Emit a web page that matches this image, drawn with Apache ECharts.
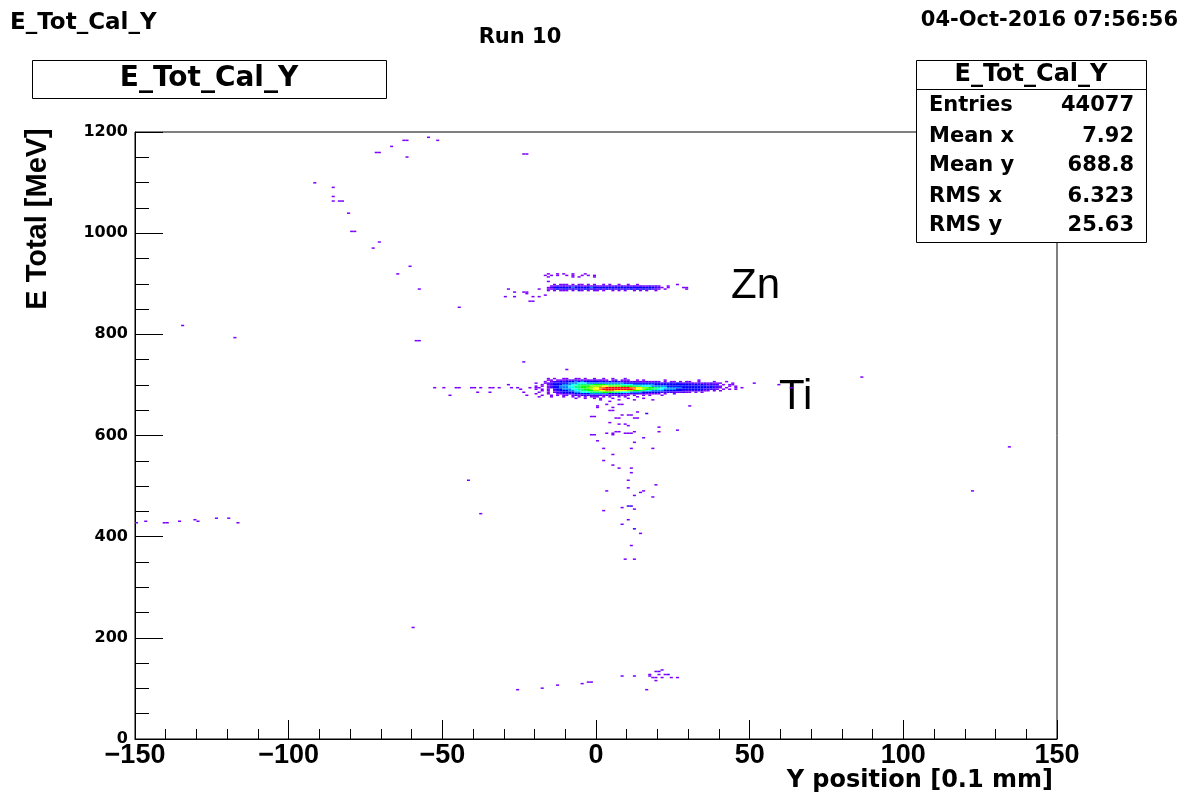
<!DOCTYPE html>
<html><head><meta charset="utf-8">
<script src="https://cdn.jsdelivr.net/npm/echarts@6/dist/echarts.min.js"></script>
<style>html,body{margin:0;padding:0;background:#fff}#c{width:1184px;height:799px}</style>
</head><body><div id="c"></div>
<script>
// ---- axes ----
const xRange = [-150, 150];
const yRange = [0, 1200];
const binW = 1, binH = 3;
// level code -> approximate bin count
const levelCounts = [0, 2, 40, 80, 120, 160, 200, 240, 280, 320, 360, 400];
const palette = ['#8000ff','#4000ff','#0000ff','#0080ff','#00ffff','#00ff80','#00ff00','#80ff00','#ffff00','#ff8000','#ff0000'];

// Ti blob rows: [y bin low edge, x start, level codes per x bin]
const tiRows = [
  [711,-20,"....1.1..1"+"1..11.1..1"+"..1..1...1"],
  [708,-20,"....11.111"+"2122121212"+"1211.12.11"+"1..1.1...."+"..1......."+"...1......"],
  [705,-20,"...1.12232"+"3334343333"+"3232323222"+"2121212112"+"1.1.11.1.1"+"1..1....1."+"..1..."],
  [702,-20,"1..1223333"+"3444555444"+"4444444443"+"3333333333"+"3232323222"+"2212121211"+"1...1."],
  [699,-20,"..1.123334"+"4455666667"+"7776666655"+"5544444443"+"3333333333"+"3232322222"+".1.1.."],
  [696,-20,"1.1.123344"+"4556677788"+"8899888877"+"7766655544"+"4443333333"+"3333332322"+"1..1.1"],
  [693,-20,".1..123344"+"4556677889"+"9aabbbbbbb"+"baa9988776"+"6554444433"+"3333333322"+"1.1..1"],
  [690,-20,"1.1.1.2334"+"4455667789"+"9abbbbbbbb"+"bba9987766"+"5544443333"+"3333322221"+".1.1.."],
  [687,-20,"..1.1.1233"+"3445566778"+"899aaa9999"+"8877665544"+"4433333322"+"2222211.1."+"1....."],
  [684,-20,".1..1.1223"+"3334455566"+"6677766655"+"5444433333"+"3222221121"+"1.1.1....."],
  [681,-20,"1...1..112"+"2223333344"+"4444333332"+"2222121111"+"1.1..1...."],
  [678,-20,"..1..1.1.1"+"1.12122222"+"2212121211"+"1.1..1.1.."+".1........"],
  [675,-20,".1...1...1"+"..1.1.1.11"+"1.1.1..1.1"+"...1......"],
  [672,-20,".........."+"...1..1..1"+".1...1...."+"1....1...."]
];

// Zn band rows
const znRows = [
  [918,-20,"....1..1.1"+"..1...1..."],
  [915,-20,"...1.1.1.."+"1.1..1.1.1"],
  [912,-20,"....1....."+"..1.1....1"],
  [897,-20,"......1.11"+"1.1.11.1.1"+"..1.1..1.."+"1..1......"+"......1..."],
  [894,-20,".....11212"+"1212211212"+"1121212121"+"2121211212"+"1..1......"],
  [891,-20,"....123333"+"3343333343"+"3333333333"+"3333333332"+"21.1....1."],
  [888,-20,"....112323"+"3232323323"+"2323232323"+"2323232322"+"1.1......1"],
  [885,-20,"....1.1.11"+"1.1.21.1.1"+"1.1..1.1.1"+"..1.1.1..1"]
];

// isolated entries [x, y] or [x, y, level]
const upperPts = [[-55,1189],[-51.8,1184],[-63,1184],[-62,1184],[-67,1171],[-72,1159],[-71,1159],[-61.8,1151],
  [-24,1155],[-23,1155],[-91.8,1100],[-85.9,1091],[-85.9,1072],[-85.9,1062],[-83.8,1064],[-82.8,1064],
  [-81,1040],[-80,1002],[-79,1002],[-70.7,983],[-73,969],[-61,934],[-64.9,920],[-57.8,890],[-44.8,852],
  [-134.7,817],[-117.7,793],[-59,787],[-58,787],[-16,904]];
const znSidePts = [[-29,888],[-30,875],[-27,882],[-27,875],[-24,882],[-23,882],[-23,879],[-21,875],
  [-22,866],[-21,866],[-19,889],[-19,875],[-17,876],[26.7,897],[29.6,891]];
const tiSidePts = [[-23.1,744],[-10,730],[-52.9,693],[-49.1,694.7],[-45.9,694.7],[-44.2,693],[-41,694.7],
  [-39.4,693],[-37.2,694.7],[-35,693],[-34,694.7],[-31.2,693],[-28.5,699.9],[-28,693],[-25.8,693],
  [-24.7,692],[-23.6,686.6],[-22.5,680],[-21.5,693],[-19.8,694.7],[-18.8,676.7],[-18.2,686.6],
  [-17.1,690],[-48,680],[-38.3,686.6],[-34.5,686.6],[-19.3,683],
  [39.3,703],[38.2,693],[42,693],[44.7,701.4],[45.2,690],[47.4,693],[51.8,703],[59.3,700],[63,693],
  [86.6,714],[134.7,578],[122.7,491],[30.6,657],[4.6,650.5],[7.8,661.7]];
const tailPts = [[1.3,670],[4,667],[7,670],[12,670],[18,670],[0,657],[0.7,654],[3,662],[5,654],[5,649],
  [8,662],[-2,638],[-1,638],[8,640],[10,640],[11,640],[13,646],[16,642,2],[6.5,633],[7.5,633],[12.4,633],
  [13.4,633],[4,625],[7,621],[9,621],[10,619],[20,615],[20,607],[26.7,611],[6.5,607],[7.5,607],[9,603],
  [10,603],[11,603],[3,603],[5,605],[5,601],[12,607],[-2,600],[-1,600],[0,589],[15,595],[12,586],[11,575],
  [18,573],[2,573],[5,561],[2,550],[5,542],[7,534],[11,534],[11,526],[10,510],[19,502],[10,496],[3,491],
  [15,491],[14,488],[12,482],[18,477],[10,459,2],[11,459,2],[8,458],[12,455],[2,451],[10,433],[8,423],
  [12,416,2],[14,407],[11,382],[9,356],[12,356]];
const leftPts = [[-149.7,426],[-146.7,431],[-141,428],[-140,428],[-135.9,431],[-130.7,434],[-129.8,431],
  [-124,436],[-120,436],[-116.8,428],[-42,512],[-38,445],[-60,219]];
const bottomPts = [[-26,97],[-17.1,99],[-13,105],[-5,110],[-2.2,112.7],[-1.2,112.7],[8,124],[12.9,124],
  [17,128.5],[17,124],[17.9,126.5],[20.5,132.5,2],[19.5,132.5],[21.9,135],[20.8,128.5],[23,128.5,2],
  [22,128.5],[18.7,120.6],[19.7,120.6],[21,120.6],[24,120.6],[26.8,120.6],[19,115],[16,98.9]];

// ---- build bins ----
const cells = new Map();
function put(xb, yb, lvl) {
  const k = xb + ',' + yb;
  if (!cells.has(k) || cells.get(k)[2] < lvl) cells.set(k, [xb, yb, lvl]);
}
[...tiRows, ...znRows].forEach(([y, x0, s]) => {
  for (let i = 0; i < s.length; i++) {
    if (s[i] !== '.') put(x0 + i, y, parseInt(s[i], 36));
  }
});
[...upperPts, ...znSidePts, ...tiSidePts, ...tailPts, ...leftPts, ...bottomPts].forEach(p => {
  put(Math.floor(p[0] / binW) * binW, Math.floor(p[1] / binH) * binH, p[2] || 1);
});
const histData = [...cells.values()].map(c => [c[0], c[1], levelCounts[c[2]]]);

const chart = echarts.init(document.getElementById('c'), null, {renderer: 'canvas'});
const bold = 'bold';
chart.setOption({
  animation: false,
  backgroundColor: '#fff',
  grid: {left: 135, right: 127, top: 132, bottom: 60, show: true, borderColor: '#000', borderWidth: 1, backgroundColor: 'transparent'},
  xAxis: {
    type: 'value', min: xRange[0], max: xRange[1], interval: 50,
    axisLine: {onZero: false, lineStyle: {color: '#000', width: 1}},
    axisTick: {inside: true, length: 19, lineStyle: {color: '#000'}},
    minorTick: {show: true, splitNumber: 5, length: 10, lineStyle: {color: '#000'}},
    splitLine: {show: false},
    axisLabel: {color: '#000', fontFamily: 'Liberation Sans', fontWeight: bold, fontSize: 27, margin: 3,
      formatter: v => String(v).replace('-', '\u2212')}
  },
  yAxis: {
    type: 'value', min: yRange[0], max: yRange[1], interval: 200,
    axisLine: {onZero: false, lineStyle: {color: '#000', width: 1}},
    axisTick: {inside: true, length: 28, lineStyle: {color: '#000'}},
    minorTick: {show: true, splitNumber: 4, length: 14, lineStyle: {color: '#000'}},
    splitLine: {show: false},
    axisLabel: {color: '#000', fontFamily: 'DejaVu Sans', fontWeight: bold, fontSize: 16, margin: 7,
      formatter: v => String(v)}
  },
  visualMap: {show: false, type: 'continuous', dimension: 2, min: 0, max: 400, seriesIndex: 0,
    inRange: {color: palette}},
  series: [{
    type: 'custom',
    data: histData,
    encode: {x: 0, y: 1},
    clip: true,
    renderItem: function (params, api) {
      const x = api.value(0), y = api.value(1);
      const a = api.coord([x, y + binH]);
      const b = api.coord([x + binW, y]);
      return {type: 'rect', shape: {x: a[0], y: a[1], width: b[0] - a[0], height: b[1] - a[1]},
        style: {fill: api.visual('color')}};
    }
  }],
  graphic: [
    {type: 'text', left: 10, top: 12, style: {text: 'E_Tot_Cal_Y', font: 'bold 23px "DejaVu Sans"', fill: '#000'}},
    {type: 'text', x: 520, y: 38, style: {text: 'Run 10', font: 'bold 21px "DejaVu Sans"', fill: '#000', align: 'center', verticalAlign: 'middle'}},
    {type: 'text', x: 1178, y: 21, style: {text: '04-Oct-2016 07:56:56', font: 'bold 21px "DejaVu Sans"', fill: '#000', align: 'right', verticalAlign: 'middle'}},
    {type: 'rect', shape: {x: 32.5, y: 60.5, width: 354, height: 38}, style: {fill: '#fff', stroke: '#000', lineWidth: 1}},
    {type: 'text', x: 209, y: 79, style: {text: 'E_Tot_Cal_Y', font: 'bold 28px "DejaVu Sans"', fill: '#000', align: 'center', verticalAlign: 'middle'}},
    {type: 'rect', z: 10, shape: {x: 916.5, y: 60.5, width: 230, height: 182}, style: {fill: '#fff', stroke: '#000', lineWidth: 1}},
    {type: 'line', z: 11, shape: {x1: 916.5, y1: 89.5, x2: 1146.5, y2: 89.5}, style: {stroke: '#000', lineWidth: 1}},
    {type: 'text', z: 11, x: 1031, y: 75, style: {text: 'E_Tot_Cal_Y', font: 'bold 24px "DejaVu Sans"', fill: '#000', align: 'center', verticalAlign: 'middle'}},
    {type: 'group', z: 11, children: [
      ['Entries', '44077', 106], ['Mean x', '7.92', 137], ['Mean y', '688.8', 166],
      ['RMS x', '6.323', 197], ['RMS y', '25.63', 226]
    ].flatMap(r => [
      {type: 'text', z: 11, x: 929, y: r[2], style: {text: r[0], font: 'bold 21px "DejaVu Sans"', fill: '#000', align: 'left', verticalAlign: 'middle'}},
      {type: 'text', z: 11, x: 1134, y: r[2], style: {text: r[1], font: 'bold 21px "DejaVu Sans"', fill: '#000', align: 'right', verticalAlign: 'middle'}}
    ])},
    {type: 'text', x: 731, y: 286, style: {text: 'Zn', font: '42px "Liberation Sans"', fill: '#000', align: 'left', verticalAlign: 'middle'}},
    {type: 'text', x: 779, y: 397, style: {text: 'Ti', font: '42px "Liberation Sans"', fill: '#000', align: 'left', verticalAlign: 'middle'}},
    {type: 'text', x: 1053, y: 781, style: {text: 'Y position [0.1 mm]', font: 'bold 24px "DejaVu Sans"', fill: '#000', align: 'right', verticalAlign: 'middle'}},
    {type: 'text', x: 38, y: 219, rotation: Math.PI / 2, style: {text: 'E Total [MeV]', font: 'bold 29px "Liberation Sans"', fill: '#000', align: 'center', verticalAlign: 'middle'}}
  ]
});
</script></body></html>
